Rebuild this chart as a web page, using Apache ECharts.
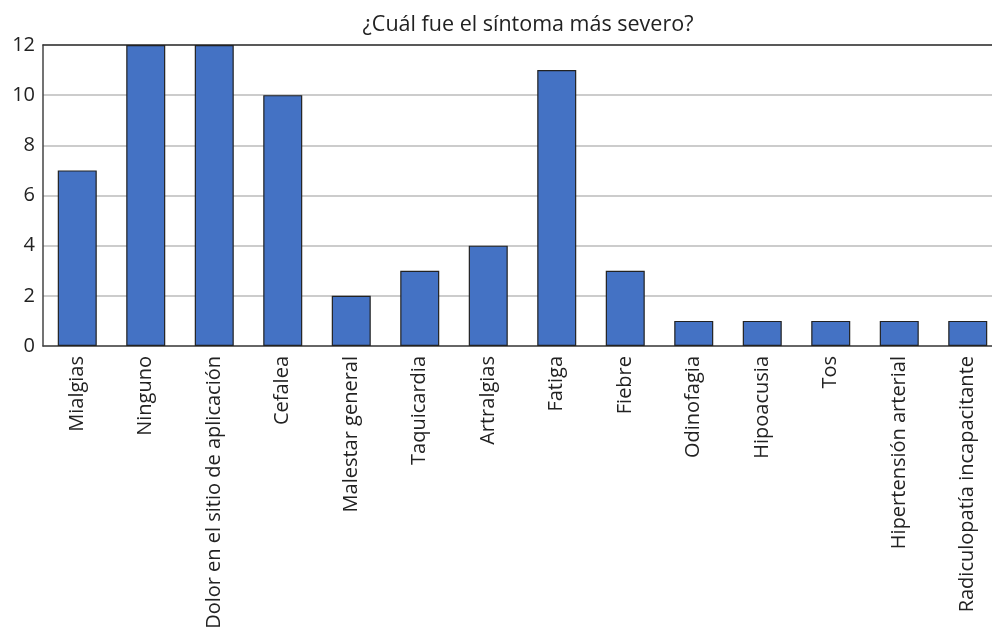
<!DOCTYPE html>
<html>
<head>
<meta charset="utf-8">
<script src="https://cdn.jsdelivr.net/npm/echarts@6/dist/echarts.min.js"></script>
<style>
  html, body { margin: 0; padding: 0; background: #fff; }
  #chart { width: 992px; height: 628px; }
</style>
</head>
<body>
<div id="chart"></div>
<script>
const categories = [
  "Mialgias", "Ninguno", "Dolor en el sitio de aplicación", "Cefalea",
  "Malestar general", "Taquicardia", "Artralgias", "Fatiga", "Fiebre",
  "Odinofagia", "Hipoacusia", "Tos", "Hipertensión arterial",
  "Radiculopatía incapacitante"
];
const counts = [7, 12, 12, 10, 2, 3, 4, 11, 3, 1, 1, 1, 1, 1];

const chart = echarts.init(document.getElementById("chart"));
const font = "'Open Sans', sans-serif";

chart.setOption({
  animation: false,
  title: {
    text: "¿Cuál fue el síntoma más severo?",
    left: 523,
    textAlign: "center",
    top: 9,
    textStyle: { fontFamily: font, fontSize: 21.5, fontWeight: "normal", color: "#222" },
  },
  grid: { left: 43, width: 959, top: 45, height: 301, outerBoundsMode: "none" },
  xAxis: [
    {
      type: "category",
      data: categories,
      axisLine: { lineStyle: { color: "#444", width: 1.5 } },
      axisTick: { show: false },
      axisLabel: {
        rotate: 90,
        interval: 0,
        margin: 10,
        fontFamily: font,
        fontSize: 20,
        color: "#222",
      },
    },
    {
      type: "category",
      position: "top",
      data: categories,
      axisLine: { lineStyle: { color: "#333", width: 1.5 } },
      axisTick: { show: false },
      axisLabel: { show: false },
    },
  ],
  yAxis: {
    type: "value",
    min: 0,
    max: 12,
    interval: 2,
    axisLine: { show: true, lineStyle: { color: "#444", width: 1.5 } },
    axisTick: { show: false },
    axisLabel: { fontFamily: font, fontSize: 20, color: "#222", margin: 8 },
    splitLine: { lineStyle: { color: "#bbb", width: 1.5 } },
  },
  series: [
    {
      type: "bar",
      data: counts,
      barWidth: 39,
      itemStyle: { color: "#4472c4", borderColor: "#222", borderWidth: 1.2 },
    },
  ],
});
</script>
</body>
</html>
